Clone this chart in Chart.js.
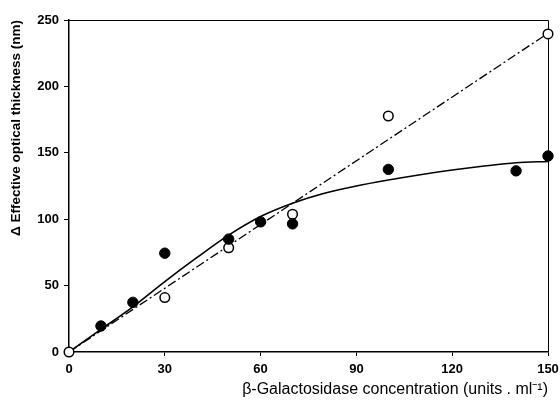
<!DOCTYPE html>
<html>
<head>
<meta charset="utf-8">
<script src="https://cdn.jsdelivr.net/npm/chart.js@4.4.1/dist/chart.umd.min.js"></script>
<style>
html,body{margin:0;padding:0;background:#fff;}
#wrap{width:560px;height:402px;position:relative;}
</style>
</head>
<body>
<div id="wrap"><canvas id="c" width="560" height="402"></canvas></div>
<script>
// Filled circles
const concFilled = [10, 20, 30, 50, 60, 70, 100, 140, 150];
const thickFilled = [19.6, 37.4, 74.4, 85, 98, 96.5, 137.5, 136.4, 147.6];
// Open circles
const concOpen = [0, 30, 50, 70, 100, 150];
const thickOpen = [0, 41, 78.5, 103.7, 177.7, 239.5];
// Solid fitted curve (filled series)
const fitConc = [0, 10, 20, 30, 40, 50, 60, 70, 80, 90, 100, 110, 120, 130, 140, 150];
const fitSolid = [0, 17, 34, 53, 71, 88, 102, 112, 119.5, 125, 129.5, 133.5, 137, 140, 142.5, 143.5];
// Dash-dot fitted line (open series)
const lineConc = [0, 150];
const lineOpen = [0, 240];
// Tick labels
const xTicks = [0, 30, 60, 90, 120, 150];
const yTicks = [0, 50, 100, 150, 200, 250];

const zip = (xs, ys) => xs.map((x, i) => ({x: x, y: ys[i]}));
const FONT = '"Liberation Sans", Arial, Helvetica, sans-serif';

const boxPlugin = {
  id: 'box',
  beforeDatasetsDraw(chart) {
    const {ctx, chartArea: a} = chart;
    ctx.save();
    ctx.strokeStyle = '#000';
    ctx.lineWidth = 1;
    ctx.beginPath();
    ctx.moveTo(a.left, a.top + 0.5);
    ctx.lineTo(a.right + 0.5, a.top + 0.5);
    ctx.lineTo(a.right + 0.5, a.bottom);
    ctx.stroke();
    ctx.restore();
  }
};

new Chart(document.getElementById('c'), {
  type: 'scatter',
  data: {
    datasets: [
      {
        label: 'filled',
        data: zip(concFilled, thickFilled),
        pointRadius: 5.2,
        pointBackgroundColor: '#000',
        pointBorderColor: '#000',
        pointBorderWidth: 1,
        showLine: false,
        clip: false
      },
      {
        label: 'open',
        data: zip(concOpen, thickOpen),
        pointRadius: 4.8,
        pointBackgroundColor: '#fff',
        pointBorderColor: '#000',
        pointBorderWidth: 1.5,
        showLine: false,
        clip: false
      },
      {
        label: 'fit solid',
        data: zip(fitConc, fitSolid),
        showLine: true,
        borderColor: '#000',
        borderWidth: 1.6,
        pointRadius: 0,
        cubicInterpolationMode: 'monotone',
        fill: false
      },
      {
        label: 'fit dash-dot',
        data: zip(lineConc, lineOpen),
        showLine: true,
        borderColor: '#000',
        borderWidth: 1.3,
        borderDash: [9, 3, 2, 3],
        pointRadius: 0,
        fill: false
      }
    ]
  },
  options: {
    responsive: false,
    animation: false,
    layout: {padding: {top: 20, right: 12, left: 0, bottom: 0}},
    plugins: {legend: {display: false}, tooltip: {enabled: false}},
    scales: {
      x: {
        type: 'linear',
        min: 0, max: 150,
        afterBuildTicks: s => { s.ticks = xTicks.map(v => ({value: v})); },
        afterFit: s => { s.height = 50; s.paddingRight = 0; s.paddingLeft = 0; },
        grid: {display: true, drawOnChartArea: false, drawTicks: true, tickLength: 4, color: '#000', lineWidth: 1},
        border: {display: true, color: '#000', width: 1.5},
        ticks: {color: '#000', padding: 6, maxRotation: 0, font: {family: FONT, size: 13, weight: 'bold'}},
        title: {
          display: true,
          text: 'β-Galactosidase concentration (units . ml⁻¹)',
          align: 'end',
          color: '#000',
          padding: {top: 0, bottom: 3},
          font: {family: FONT, size: 16, weight: 'normal'}
        }
      },
      y: {
        type: 'linear',
        min: 0, max: 250,
        afterBuildTicks: s => { s.ticks = yTicks.map(v => ({value: v})); },
        afterFit: s => { s.width = 69; s.paddingTop = 0; s.paddingBottom = 0; },
        grid: {display: true, drawOnChartArea: false, drawTicks: true, tickLength: 5, color: '#000', lineWidth: 1},
        border: {display: true, color: '#000', width: 1.5},
        ticks: {color: '#000', padding: 5, font: {family: FONT, size: 13, weight: 'bold'}},
        title: {
          display: true,
          text: 'Δ Effective optical thickness (nm)',
          align: 'end',
          color: '#000',
          padding: {top: 8, bottom: 0},
          font: {family: FONT, size: 13.5, weight: 'bold'}
        }
      }
    }
  },
  plugins: [boxPlugin]
});
</script>
</body>
</html>
